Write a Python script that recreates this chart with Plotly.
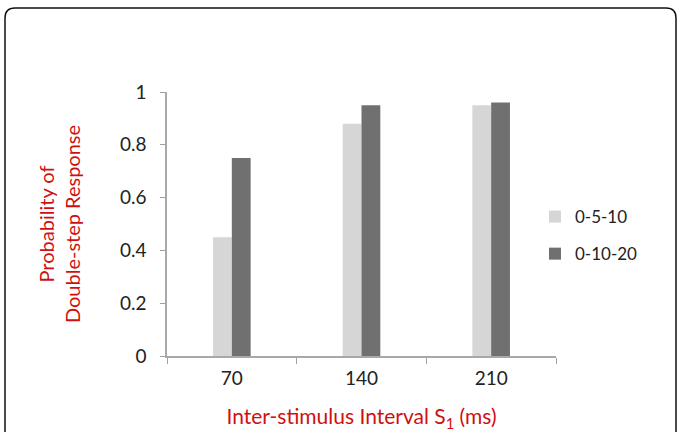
import plotly.graph_objects as go

categories = ["70", "140", "210"]
series_names = ["0-5-10", "0-10-20"]
values_5_10 = [0.45, 0.88, 0.95]
values_10_20 = [0.75, 0.95, 0.96]
y_ticks = [0, 0.2, 0.4, 0.6, 0.8, 1]
y_tick_labels = ["0", "0.2", "0.4", "0.6", "0.8", "1"]

W, H = 678, 432
L, R, T, B = 167, 122, 92, 76
pw, ph = W - L - R, H - T - B

def px(x):
    return (x - L) / pw

def py(y):
    return (H - B - y) / ph

fig = go.Figure()
fig.add_trace(go.Bar(x=categories, y=values_5_10, name=series_names[0],
                     marker=dict(color="#d6d6d6", line=dict(width=0)),
                     legendgroup="a"))
fig.add_trace(go.Bar(x=categories, y=values_10_20, name=series_names[1],
                     marker=dict(color="#707070", line=dict(width=0)),
                     legendgroup="b"))

# rounded frame
x0, x1, y0, y1, r = px(5), px(676), py(8), py(445), 10
rx, ry = r / pw, r / ph
path = (f"M {x0+rx},{y0} L {x1-rx},{y0} Q {x1},{y0} {x1},{y0-ry} "
        f"L {x1},{y1} L {x0},{y1} L {x0},{y0-ry} Q {x0},{y0} {x0+rx},{y0} Z")

fig.update_layout(
    width=W, height=H,
    margin=dict(l=L, r=R, t=T, b=B, pad=0, autoexpand=False),
    paper_bgcolor="white", plot_bgcolor="white",
    barmode="group", bargap=0.71, bargroupgap=0,
    font=dict(family="Lato, Open Sans, sans-serif", size=18, color="#222"),
    shapes=[dict(type="path", path=path, xref="paper", yref="paper",
                 line=dict(color="#111", width=1.5), fillcolor="rgba(0,0,0,0)", layer="above")],
    legend=dict(x=px(535), y=py(199), xanchor="left", yanchor="top",
                font=dict(size=17, color="#222"), tracegroupgap=12,
                bgcolor="rgba(0,0,0,0)", itemwidth=30),
    xaxis=dict(
        showline=True, linecolor="#a3aba3", linewidth=1.5,
        ticks="outside", tickson="boundaries", ticklen=6, tickcolor="#a0a0a0",
        tickfont=dict(size=19, color="#222"), showgrid=False, ticklabelstandoff=4,
        title=dict(text="Inter-stimulus Interval S<sub>1</sub> (ms)",
                   font=dict(size=21, color="#d01010"), standoff=22),
    ),
    yaxis=dict(
        range=[0, 1], tickvals=y_ticks, ticktext=y_tick_labels,
        showline=True, linecolor="#a3aba3", linewidth=1.5,
        ticks="outside", ticklen=5, tickcolor="#a0a0a0",
        tickfont=dict(size=19, color="#222"), showgrid=False, zeroline=False,
        ticklabelstandoff=10,
        title=dict(text="Probability of<br>Double-step Response",
                   font=dict(size=20, color="#d01010"), standoff=34),
    ),
)

fig.write_html("out.html", post_script="document.body.style.margin='0';",
               config={"displayModeBar": False})
